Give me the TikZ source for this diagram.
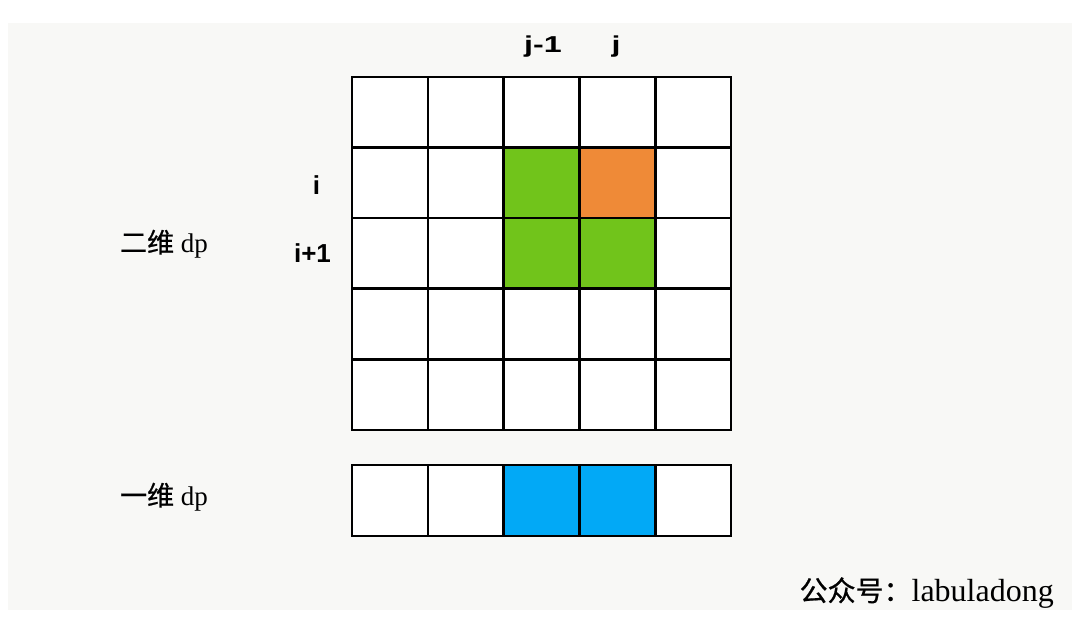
\documentclass[tikz,border=0pt]{standalone}
\usepackage{fontspec}
\setmainfont{Liberation Serif}
\setsansfont{Liberation Sans}
\newfontfamily\cjk[FakeBold=0.7]{Noto Sans CJK SC}
\usetikzlibrary{positioning}
\definecolor{DpGreen}{HTML}{71C41B}
\definecolor{DpOrange}{HTML}{EF8A37}
\definecolor{DpBlue}{HTML}{02A9F6}
\definecolor{DpPaper}{HTML}{F8F8F6}

\tikzset{
  cellbox/.style={draw=black, line width=2.6pt, fill=white, minimum width=75.8pt, minimum height=70.6pt, inner sep=0pt, outer sep=0pt},
  colidx/.style={font=\sffamily\bfseries\fontsize{23}{25}\selectfont, inner sep=0pt},
  rowidx/.style={font=\sffamily\bfseries\fontsize{26}{28}\selectfont, inner sep=0pt},
  sidelabel/.style={font=\fontsize{27}{30}\selectfont, inner sep=0pt},
}

\begin{document}
\begin{tikzpicture}[x=1pt,y=-1pt]
    \useasboundingbox (0,0) rectangle (1084,620);
    \fill[DpPaper] (8,23) rectangle (1072,610);

    % 2D dp table
    \foreach \r in {0,...,4}{
      \foreach \c in {0,...,4}{
        \node[cellbox] (cell-\r-\c) at ({352+75.8*\c+37.9},{77+70.6*\r+35.3}) {};
      }
    }
    \node[cellbox, fill=DpGreen] (up-left) at (cell-1-2) {};
    \node[cellbox, fill=DpOrange] (up) at (cell-1-3) {};
    \node[cellbox, fill=DpGreen] (left) at (cell-2-2) {};
    \node[cellbox, fill=DpGreen] (cur) at (cell-2-3) {};

    % 1D dp row
    \foreach \c in {0,...,4}{
      \node[cellbox, minimum height=71pt] (row-\c) at ({352+75.8*\c+37.9},500.5) {};
    }
    \node[cellbox, minimum height=71pt, fill=DpBlue] (row-b2) at (row-2) {};
    \node[cellbox, minimum height=71pt, fill=DpBlue] (row-b3) at (row-3) {};

    \node[colidx, anchor=base] (jm1) at (543,53) {\scalebox{1.4}[1]{j-1}};
    \node[colidx, anchor=base] (jj) at (616,53) {\scalebox{1.4}[1]{j}};
    \node[rowidx, anchor=base] (ii) at (316.5,195) {i};
    \node[rowidx, anchor=base] (ip1) at (312.5,263) {i+1};

    \node[sidelabel] (twod) at (164,244) {{\cjk 二维} dp};
    \node[sidelabel] (oned) at (164,497) {{\cjk 一维} dp};
    \node[sidelabel, anchor=base east, font=\fontsize{32}{34}\selectfont] (sign) at (1054,601) {{\cjk\fontsize{28}{30}\selectfont 公众号：}labuladong};
  \end{tikzpicture}
\end{document}
